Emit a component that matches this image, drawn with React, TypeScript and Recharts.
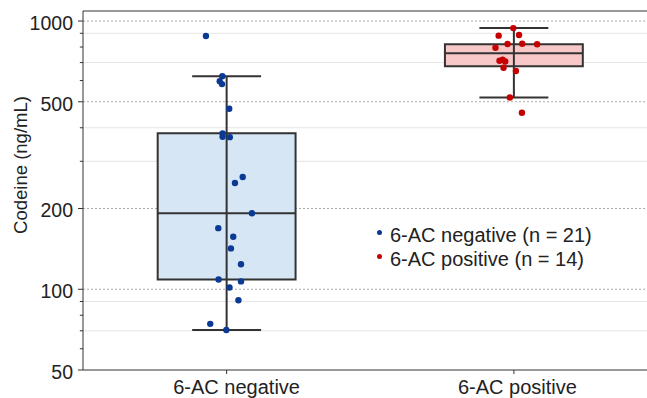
import {
  CartesianGrid,
  ComposedChart,
  Legend,
  ReferenceArea,
  ReferenceLine,
  Scatter,
  XAxis,
  YAxis,
} from "recharts";

const categories = ["6-AC negative", "6-AC positive"];
const seriesNames = ["6-AC negative (n = 21)", "6-AC positive (n = 14)"];
const seriesColors = ["#0b3a94", "#c40000"];
const boxFills = ["#d6e6f4", "#f8c8c9"];

// codeine values, with the horizontal jitter of each dot
const negativeValues = [879, 623, 596, 582, 471, 381, 370, 369, 262, 249, 192, 169, 157, 142, 124, 108.7, 107, 101.5, 91, 74.3, 70.5];
const negativeJitter = [-0.072, -0.015, -0.024, -0.016, 0.009, -0.014, -0.014, 0.011, 0.056, 0.029, 0.088, -0.029, 0.023, 0.015, 0.05, -0.028, 0.05, 0.01, 0.041, -0.057, -0.001];
const positiveValues = [941, 882, 887, 821, 823, 819, 795, 711, 717, 707, 670, 651, 519, 455];
const positiveJitter = [-0.002, -0.053, 0.018, -0.022, 0.029, 0.081, -0.064, -0.05, -0.039, -0.03, -0.036, 0.007, -0.014, 0.028];

// box stats per category
const whiskerLow = [70.5, 519];
const quartile1 = [108.7, 678];
const medians = [192, 758];
const quartile3 = [382, 819];
const whiskerHigh = [623, 941];

const yTicks = [50, 100, 200, 500, 1000];
const minorTicks = [60, 70, 80, 90, 300, 400, 600, 700, 800, 900];

const FONT = '"Liberation Sans", Arial, sans-serif';
const BOX_HALF = 0.24;
const CAP_HALF = 0.12;
const labelShift = [10, 3.5]; // category labels sit a little right of their tick

const negativePoints = negativeValues.map((v, i) => ({ x: 0 + negativeJitter[i], y: v }));
const positivePoints = positiveValues.map((v, i) => ({ x: 1 + positiveJitter[i], y: v }));

const Dot = (props: any) => <circle cx={props.cx} cy={props.cy} r={3.2} fill={props.fill} />;

const CategoryTick = (props: any) => {
  const idx = props.payload.value;
  return (
    <text
      x={props.x + (labelShift[idx] ?? 0)}
      y={props.y}
      dy="0.71em"
      textAnchor="middle"
      fontFamily={FONT}
      fontSize={20}
      fill="#222"
    >
      {categories[idx]}
    </text>
  );
};

function LegendBox() {
  return (
    <div style={{ fontFamily: FONT, fontSize: 20, lineHeight: "24px", color: "#222" }}>
      {seriesNames.map((name, i) => (
        <div key={name} style={{ display: "flex", alignItems: "center" }}>
          <span
            style={{
              width: 5,
              height: 5,
              borderRadius: "50%",
              background: seriesColors[i],
              marginRight: 8,
              marginTop: -6,
            }}
          />
          {name}
        </div>
      ))}
    </div>
  );
}

export default function App() {
  return (
    <div style={{ position: "absolute", left: 0, top: 0, width: 647, height: 398, overflow: "hidden", background: "#fff" }}>
      <ComposedChart width={660} height={398} margin={{ top: 11, right: 2.5, left: 0, bottom: 0 }}>
        <CartesianGrid vertical={false} horizontalValues={minorTicks} stroke="#e4e4e4" />
        <CartesianGrid vertical={false} horizontalValues={[100, 200, 500, 1000]} stroke="#ababab" strokeDasharray="2 2" />
        <XAxis
          type="number"
          dataKey="x"
          domain={[-0.5, 1.5]}
          ticks={[0, 1]}
          allowDataOverflow
          height={28}
          tickSize={4}
          tickMargin={6}
          stroke="#333"
          tick={<CategoryTick />}
        />
        <YAxis
          type="number"
          dataKey="y"
          scale="log"
          domain={[50, 1090]}
          ticks={yTicks}
          allowDataOverflow
          width={83}
          tickSize={5}
          tickMargin={5}
          stroke="#333"
          tick={{ fontFamily: FONT, fontSize: 19.5, fill: "#222", dy: 2 }}
          label={{
            content: () => (
              <text
                x={20}
                y={165}
                transform="rotate(-90 20 165)"
                textAnchor="middle"
                dominantBaseline="central"
                fontFamily={FONT}
                fontSize={18.5}
                fill="#222"
              >
                Codeine (ng/mL)
              </text>
            ),
          }}
        />
        {minorTicks.map((v) => (
          <ReferenceLine
            key={"mt" + v}
            segment={[{ x: -0.511, y: v }, { x: -0.5, y: v }]}
            stroke="#333"
            ifOverflow="visible"
          />
        ))}
        <ReferenceLine y={1090} stroke="#333" ifOverflow="visible" />
        <ReferenceLine x={1.5} stroke="#333" ifOverflow="visible" />
        {categories.map((c, i) => (
          <ReferenceLine
            key={"wl" + c}
            segment={[{ x: i, y: whiskerLow[i] }, { x: i, y: whiskerHigh[i] }]}
            stroke="#333"
            strokeWidth={2}
          />
        ))}
        {categories.map((c, i) => (
          <ReferenceArea
            key={"box" + c}
            x1={i - BOX_HALF}
            x2={i + BOX_HALF}
            y1={quartile1[i]}
            y2={quartile3[i]}
            fill={boxFills[i]}
            fillOpacity={1}
            stroke="#333"
            strokeWidth={2}
          />
        ))}
        {categories.map((c, i) => (
          <ReferenceLine
            key={"md" + c}
            segment={[{ x: i - BOX_HALF, y: medians[i] }, { x: i + BOX_HALF, y: medians[i] }]}
            stroke="#333"
            strokeWidth={2}
          />
        ))}
        {categories.map((c, i) => (
          <ReferenceLine
            key={"capHi" + c}
            segment={[{ x: i - CAP_HALF, y: whiskerHigh[i] }, { x: i + CAP_HALF, y: whiskerHigh[i] }]}
            stroke="#333"
            strokeWidth={2}
          />
        ))}
        {categories.map((c, i) => (
          <ReferenceLine
            key={"capLo" + c}
            segment={[{ x: i - CAP_HALF, y: whiskerLow[i] }, { x: i + CAP_HALF, y: whiskerLow[i] }]}
            stroke="#333"
            strokeWidth={2}
          />
        ))}
        <Scatter name={seriesNames[0]} data={negativePoints} fill={seriesColors[0]} shape={Dot} isAnimationActive={false} />
        <Scatter name={seriesNames[1]} data={positivePoints} fill={seriesColors[1]} shape={Dot} isAnimationActive={false} />
        <Legend
          layout="vertical"
          align="center"
          verticalAlign="middle"
          content={() => <LegendBox />}
          wrapperStyle={{ position: "absolute", left: 377, top: 223, width: "auto" }}
        />
      </ComposedChart>
    </div>
  );
}
